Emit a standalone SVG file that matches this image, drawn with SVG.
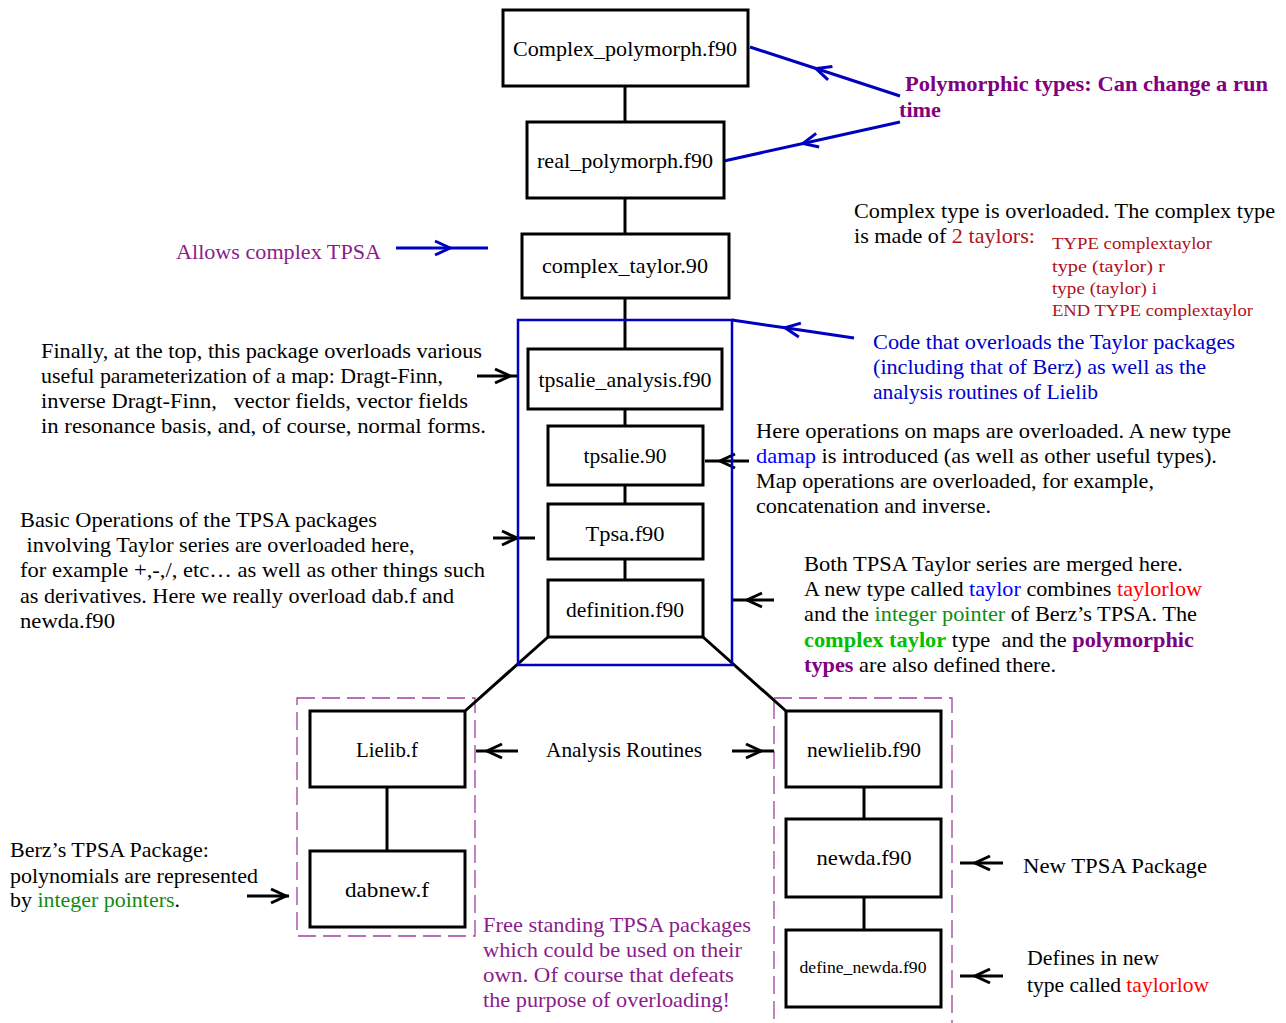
<svg xmlns="http://www.w3.org/2000/svg" width="1286" height="1023" viewBox="0 0 1286 1023">
<style>
text{font-family:"Liberation Serif","Times New Roman",serif;font-size:21px;fill:#000}
.lbl{font-size:22px;text-anchor:middle}
.box{fill:#fff;stroke:#000;stroke-width:3}
.ln{fill:none;stroke:#000;stroke-width:3}
.bl{fill:none;stroke:#0000C0;stroke-width:3}
.dash{fill:none;stroke:#A040A0;stroke-width:1.3;stroke-dasharray:18 7}
.pur{fill:#8B1C8B}
.bpur{fill:#800080;font-weight:bold}
.blu{fill:#0000CC}
.blu2{fill:#0000FF}
.dred{fill:#B01020}
.red{fill:#FF0000}
.grn{fill:#138A13}
.bgrn{fill:#00C000;font-weight:bold}
.code{font-size:17px;fill:#B01020}
</style>
<defs>
<marker id="ak" viewBox="-18 -10 21 20" refX="0" refY="0" markerWidth="21" markerHeight="20" markerUnits="userSpaceOnUse" orient="auto" overflow="visible"><path d="M-15,-7 L0,0 L-15,7" fill="none" stroke="#000" stroke-width="3"/></marker>
<marker id="ab" viewBox="-18 -10 21 20" refX="0" refY="0" markerWidth="21" markerHeight="20" markerUnits="userSpaceOnUse" orient="auto" overflow="visible"><path d="M-15,-7 L0,0 L-15,7" fill="none" stroke="#0000C0" stroke-width="3"/></marker>
</defs>

<g id="groups">
<rect class="dash" x="297" y="698" width="178" height="238"/>
<rect class="dash" x="774" y="698" width="178" height="345"/>
</g>

<g id="connectors">
<path class="ln" d="M625,86 V122"/>
<path class="ln" d="M625,198 V234"/>
<path class="ln" d="M625,298 V349"/>
<path class="ln" d="M625,409 V426"/>
<path class="ln" d="M625,485 V504"/>
<path class="ln" d="M625,559 V580"/>
<path class="ln" d="M548,637 L465,711"/>
<path class="ln" d="M703,637 L786,711"/>
<path class="ln" d="M387,787 V851"/>
<path class="ln" d="M864,787 V819"/>
<path class="ln" d="M864,897 V930"/>
<path class="bl" marker-mid="url(#ab)" d="M900,96 L816,68.5 L750,47"/>
<path class="bl" marker-mid="url(#ab)" d="M900,122 L803,143.5 L724,161"/>
<path class="bl" marker-mid="url(#ab)" d="M396,248 L450,248 L488,248"/>
<path class="bl" marker-mid="url(#ab)" d="M854,338 L785,327.8 L732,320"/>
<path class="ln" marker-mid="url(#ak)" d="M477,376 L510,376 L517,376"/>
<path class="ln" marker-mid="url(#ak)" d="M493,538 L517,538 L535,538"/>
<path class="ln" marker-mid="url(#ak)" d="M749,461 L720,461 L705,461"/>
<path class="ln" marker-mid="url(#ak)" d="M774,600 L747,600 L732,600"/>
<path class="ln" marker-mid="url(#ak)" d="M518,751 L487,751 L476,751"/>
<path class="ln" marker-mid="url(#ak)" d="M732,751 L761,751 L774,751"/>
<path class="ln" marker-mid="url(#ak)" d="M247,896 L286,896 L289,896"/>
<path class="ln" marker-mid="url(#ak)" d="M1003,863 L975,863 L960,863"/>
<path class="ln" marker-mid="url(#ak)" d="M1003,976 L975,976 L960,976"/>
</g>

<g id="overload-box">
<rect x="518" y="320" width="214" height="345" fill="none" stroke="#0000C0" stroke-width="2.5"/>
</g>

<g id="n-complex-polymorph"><rect class="box" x="503" y="10" width="245" height="76"/><text class="lbl" x="625" y="56" textLength="224" lengthAdjust="spacingAndGlyphs">Complex_polymorph.f90</text></g>
<g id="n-real-polymorph"><rect class="box" x="527" y="122" width="197" height="76"/><text class="lbl" x="625" y="168" textLength="176" lengthAdjust="spacingAndGlyphs">real_polymorph.f90</text></g>
<g id="n-complex-taylor"><rect class="box" x="522" y="234" width="207" height="64"/><text class="lbl" x="625" y="273" textLength="166" lengthAdjust="spacingAndGlyphs">complex_taylor.90</text></g>
<g id="n-tpsalie-analysis"><rect class="box" x="528" y="349" width="194" height="60"/><text class="lbl" x="625" y="387" textLength="173" lengthAdjust="spacingAndGlyphs">tpsalie_analysis.f90</text></g>
<g id="n-tpsalie"><rect class="box" x="548" y="426" width="155" height="59"/><text class="lbl" x="625" y="463" textLength="83" lengthAdjust="spacingAndGlyphs">tpsalie.90</text></g>
<g id="n-tpsa"><rect class="box" x="548" y="504" width="155" height="55"/><text class="lbl" x="625" y="541" textLength="79" lengthAdjust="spacingAndGlyphs">Tpsa.f90</text></g>
<g id="n-definition"><rect class="box" x="548" y="580" width="155" height="57"/><text class="lbl" x="625" y="617" textLength="118" lengthAdjust="spacingAndGlyphs">definition.f90</text></g>
<g id="n-lielib"><rect class="box" x="310" y="711" width="155" height="76"/><text class="lbl" x="387" y="757" textLength="62" lengthAdjust="spacingAndGlyphs">Lielib.f</text></g>
<g id="n-dabnew"><rect class="box" x="310" y="851" width="155" height="76"/><text class="lbl" x="387" y="897" textLength="84" lengthAdjust="spacingAndGlyphs">dabnew.f</text></g>
<g id="n-newlielib"><rect class="box" x="786" y="711" width="155" height="76"/><text class="lbl" x="864" y="757" textLength="114" lengthAdjust="spacingAndGlyphs">newlielib.f90</text></g>
<g id="n-newda"><rect class="box" x="786" y="819" width="155" height="78"/><text class="lbl" x="864" y="865" textLength="95" lengthAdjust="spacingAndGlyphs">newda.f90</text></g>
<g id="n-define-newda"><rect class="box" x="786" y="930" width="155" height="77"/><text class="lbl" x="863" y="973" style="font-size:16px" textLength="127" lengthAdjust="spacingAndGlyphs">define_newda.f90</text></g>

<g id="annotations">
<text class="bpur" x="905" y="91" textLength="363" lengthAdjust="spacingAndGlyphs">Polymorphic types: Can change a run</text>
<text class="bpur" x="899" y="117" textLength="42" lengthAdjust="spacingAndGlyphs">time</text>

<text class="pur" x="176" y="259" textLength="205" lengthAdjust="spacingAndGlyphs">Allows complex TPSA</text>

<text x="854" y="218" textLength="421" lengthAdjust="spacingAndGlyphs">Complex type is overloaded. The complex type</text>
<text x="854" y="243" textLength="181" lengthAdjust="spacingAndGlyphs">is made of <tspan class="dred">2 taylors:</tspan></text>
<text class="code" x="1052" y="249" textLength="160" lengthAdjust="spacingAndGlyphs">TYPE complextaylor</text>
<text class="code" x="1052" y="272" textLength="113" lengthAdjust="spacingAndGlyphs">type (taylor) r</text>
<text class="code" x="1052" y="294" textLength="105" lengthAdjust="spacingAndGlyphs">type (taylor) i</text>
<text class="code" x="1052" y="316" textLength="201" lengthAdjust="spacingAndGlyphs">END TYPE complextaylor</text>

<text class="blu" x="873" y="349" textLength="362" lengthAdjust="spacingAndGlyphs">Code that overloads the Taylor packages</text>
<text class="blu" x="873" y="374" textLength="333" lengthAdjust="spacingAndGlyphs">(including that of Berz) as well as the</text>
<text class="blu" x="873" y="399" textLength="225" lengthAdjust="spacingAndGlyphs">analysis routines of Lielib</text>

<text x="756" y="438" textLength="475" lengthAdjust="spacingAndGlyphs">Here operations on maps are overloaded. A new type</text>
<text x="756" y="463" textLength="461" lengthAdjust="spacingAndGlyphs"><tspan class="blu2">damap</tspan> is introduced (as well as other useful types).</text>
<text x="756" y="488" textLength="398" lengthAdjust="spacingAndGlyphs">Map operations are overloaded, for example,</text>
<text x="756" y="513" textLength="235" lengthAdjust="spacingAndGlyphs">concatenation and inverse.</text>

<text x="804" y="571" textLength="379" lengthAdjust="spacingAndGlyphs">Both TPSA Taylor series are merged here.</text>
<text x="804" y="596" textLength="398" lengthAdjust="spacingAndGlyphs">A new type called <tspan class="blu2">taylor</tspan> combines <tspan class="red">taylorlow</tspan></text>
<text x="804" y="621" textLength="393" lengthAdjust="spacingAndGlyphs">and the <tspan class="grn">integer pointer</tspan> of Berz’s TPSA. The</text>
<text x="804" y="647" textLength="390" lengthAdjust="spacingAndGlyphs" xml:space="preserve"><tspan class="bgrn">complex taylor</tspan> type  and the <tspan class="bpur">polymorphic</tspan></text>
<text x="804" y="672" textLength="252" lengthAdjust="spacingAndGlyphs"><tspan class="bpur">types</tspan> are also defined there.</text>

<text x="41" y="358" textLength="441" lengthAdjust="spacingAndGlyphs">Finally, at the top, this package overloads various</text>
<text x="41" y="383" textLength="402" lengthAdjust="spacingAndGlyphs">useful parameterization of a map: Dragt-Finn,</text>
<text x="41" y="408" textLength="427" lengthAdjust="spacingAndGlyphs" xml:space="preserve">inverse Dragt-Finn,   vector fields, vector fields</text>
<text x="41" y="433" textLength="445" lengthAdjust="spacingAndGlyphs">in resonance basis, and, of course, normal forms.</text>

<text x="20" y="527" textLength="357" lengthAdjust="spacingAndGlyphs">Basic Operations of the TPSA packages</text>
<text x="26.5" y="552" textLength="388" lengthAdjust="spacingAndGlyphs">involving Taylor series are overloaded here,</text>
<text x="20" y="577" textLength="465" lengthAdjust="spacingAndGlyphs">for example +,-,/, etc… as well as other things such</text>
<text x="20" y="603" textLength="434" lengthAdjust="spacingAndGlyphs">as derivatives. Here we really overload dab.f and</text>
<text x="20" y="628" textLength="95" lengthAdjust="spacingAndGlyphs">newda.f90</text>

<text x="546" y="757" textLength="156" lengthAdjust="spacingAndGlyphs">Analysis Routines</text>

<text class="pur" x="483" y="932" textLength="268" lengthAdjust="spacingAndGlyphs">Free standing TPSA packages</text>
<text class="pur" x="483" y="957" textLength="259" lengthAdjust="spacingAndGlyphs">which could be used on their</text>
<text class="pur" x="483" y="982" textLength="251" lengthAdjust="spacingAndGlyphs">own. Of course that defeats</text>
<text class="pur" x="483" y="1007" textLength="247" lengthAdjust="spacingAndGlyphs">the purpose of overloading!</text>

<text x="10" y="857" textLength="199" lengthAdjust="spacingAndGlyphs">Berz’s TPSA Package:</text>
<text x="10" y="883" textLength="248" lengthAdjust="spacingAndGlyphs">polynomials are represented</text>
<text x="10" y="907" textLength="170" lengthAdjust="spacingAndGlyphs">by <tspan class="grn">integer pointers</tspan>.</text>

<text x="1023" y="873" textLength="184" lengthAdjust="spacingAndGlyphs">New TPSA Package</text>
<text x="1027" y="965" textLength="132" lengthAdjust="spacingAndGlyphs">Defines in new</text>
<text x="1027" y="992" textLength="182" lengthAdjust="spacingAndGlyphs">type called <tspan class="red">taylorlow</tspan></text>
</g>
</svg>
